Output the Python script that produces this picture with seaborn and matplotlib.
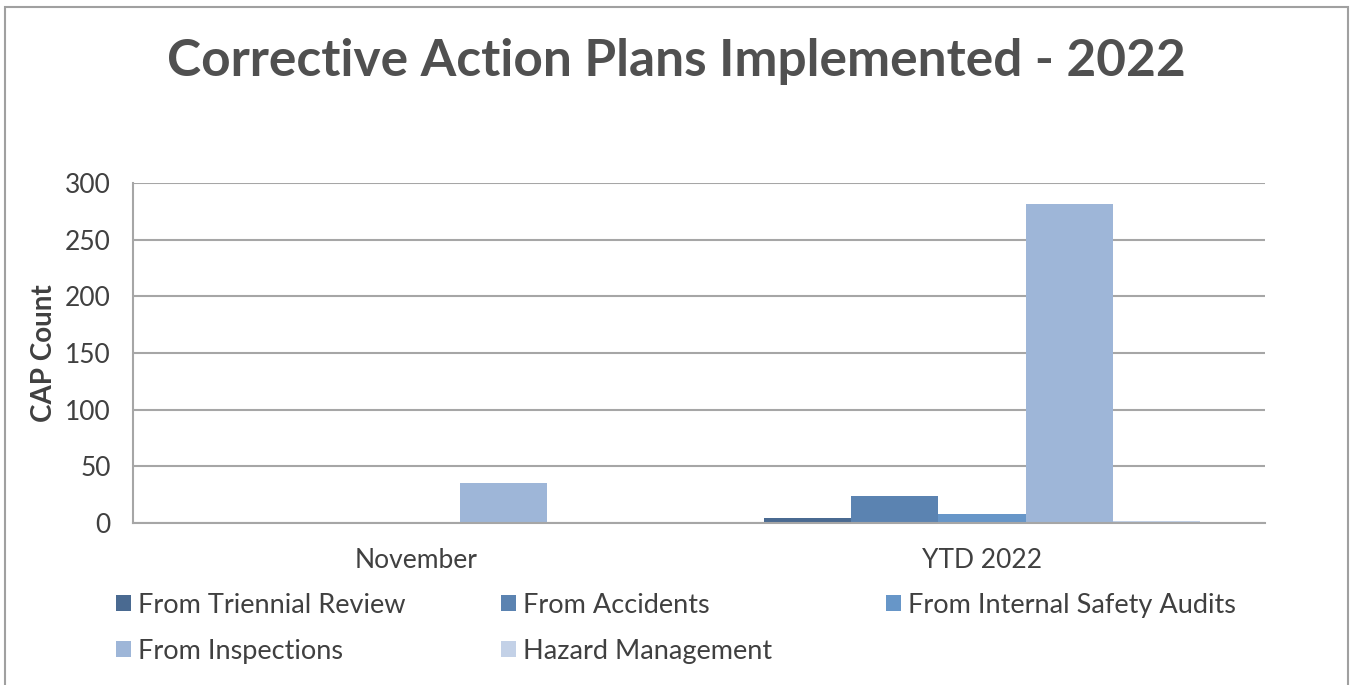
import pandas as pd
import matplotlib.pyplot as plt
import seaborn as sns
from matplotlib.patches import Rectangle

periods = ["November", "YTD 2022"]
sources = ["From Triennial Review", "From Accidents", "From Internal Safety Audits",
           "From Inspections", "Hazard Management"]
november = [0, 1, 1, 35, 1]
ytd_2022 = [4, 24, 8, 281, 2]
colors = ["#4a6a91", "#5b83b1", "#6796c8", "#9eb6d8", "#c3d1e7"]

rows = []
for src, n, y in zip(sources, november, ytd_2022):
    rows.append({"Period": periods[0], "Source": src, "Count": n})
    rows.append({"Period": periods[1], "Source": src, "Count": y})
df = pd.DataFrame(rows)

sns.set_theme(style="white")
plt.rcParams['font.family'] = ['Lato', 'DejaVu Sans']
text_color = "#404040"

fig = plt.figure(figsize=(13.52, 6.85), dpi=100)
ax = fig.add_axes([0.0984, 0.2365, 0.8373, 0.4965])

sns.barplot(data=df, x="Period", y="Count", hue="Source", hue_order=sources,
            palette=colors, width=0.77, gap=0, linewidth=0, saturation=1, ax=ax)

ax.set_ylim(0, 300)
ax.set_yticks(range(0, 301, 50))
ax.yaxis.grid(True, color="#a6a6a6", linewidth=1.5)
ax.set_axisbelow(True)
ax.tick_params(axis="both", length=0, labelsize=19, labelcolor=text_color)
ax.tick_params(axis="y", pad=16)
ax.tick_params(axis="x", pad=18)
for s in ["top", "right"]:
    ax.spines[s].set_visible(False)
for s in ["left", "bottom"]:
    ax.spines[s].set_color("#a6a6a6")
    ax.spines[s].set_linewidth(1.5)
ax.set_xlabel("")
ax.set_ylabel("CAP Count", fontsize=20, fontweight="bold", color=text_color, labelpad=6)

fig.suptitle("Corrective Action Plans Implemented - 2022", x=0.5, y=0.945,
             fontsize=37, fontweight="bold", color="#505050")

handles, labels = ax.get_legend_handles_labels()
ax.get_legend().remove()
columns = [[0, 3], [1, 4], [2]]
col_x = [116, 501, 886]
for idx, x in zip(columns, col_x):
    fig.legend([handles[i] for i in idx], [labels[i] for i in idx],
               loc="upper left", bbox_to_anchor=(x / 1352, 0.135), frameon=False,
               fontsize=19.5, labelcolor=text_color, handlelength=0.55, handleheight=0.55,
               handletextpad=0.25, labelspacing=0.78, borderpad=0, borderaxespad=0)

fig.patches.append(Rectangle((0.004, -0.02), 0.993, 1.01, transform=fig.transFigure,
                             fill=False, edgecolor="#a0a0a0", linewidth=1.5))

plt.savefig("out.png", dpi=100)
plt.close()
